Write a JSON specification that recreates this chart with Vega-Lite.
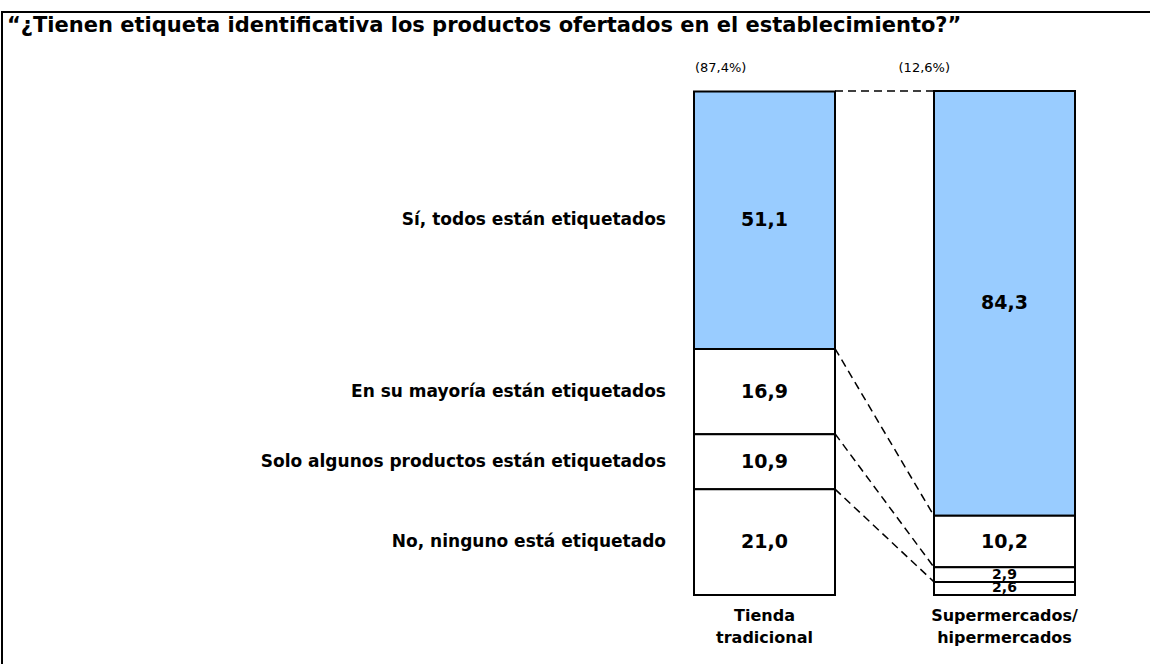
{
  "$schema": "https://vega.github.io/schema/vega-lite/v6.json",
  "width": 1152,
  "height": 656,
  "autosize": {"type": "none"},
  "padding": {"left": 2, "top": 12, "right": 0, "bottom": 0},
  "background": "white",
  "title": {
    "text": "“¿Tienen etiqueta identificativa los productos ofertados en el establecimiento?”",
    "font": "DejaVu Sans",
    "fontSize": 21,
    "fontWeight": "bold",
    "color": "black",
    "anchor": "start",
    "frame": "group",
    "orient": "top",
    "offset": 0,
    "baseline": "middle",
    "dx": 5,
    "dy": 35
  },
  "config": {
    "view": {"stroke": "black", "strokeWidth": 2},
    "font": "DejaVu Sans",
    "locale": {"number": {"decimal": ",", "thousands": ".", "grouping": [3], "currency": ["", " €"]}}
  },
  "datasets": {
    "respuestas": [
      {"canal": "Tienda tradicional", "respuesta": "Sí, todos están etiquetados", "valor": 51.1, "orden": 4},
      {"canal": "Tienda tradicional", "respuesta": "En su mayoría están etiquetados", "valor": 16.9, "orden": 3},
      {"canal": "Tienda tradicional", "respuesta": "Solo algunos productos están etiquetados", "valor": 10.9, "orden": 2},
      {"canal": "Tienda tradicional", "respuesta": "No, ninguno está etiquetado", "valor": 21.0, "orden": 1},
      {"canal": "Supermercados/ hipermercados", "respuesta": "Sí, todos están etiquetados", "valor": 84.3, "orden": 4},
      {"canal": "Supermercados/ hipermercados", "respuesta": "En su mayoría están etiquetados", "valor": 10.2, "orden": 3},
      {"canal": "Supermercados/ hipermercados", "respuesta": "Solo algunos productos están etiquetados", "valor": 2.9, "orden": 2},
      {"canal": "Supermercados/ hipermercados", "respuesta": "No, ninguno está etiquetado", "valor": 2.6, "orden": 1}
    ],
    "conexiones": [
      {"desde": "Tienda tradicional", "hasta": "Supermercados/ hipermercados", "y_desde": 100, "y_hasta": 100},
      {"desde": "Tienda tradicional", "hasta": "Supermercados/ hipermercados", "y_desde": 48.9, "y_hasta": 15.7},
      {"desde": "Tienda tradicional", "hasta": "Supermercados/ hipermercados", "y_desde": 32.0, "y_hasta": 5.5},
      {"desde": "Tienda tradicional", "hasta": "Supermercados/ hipermercados", "y_desde": 21.0, "y_hasta": 2.6}
    ],
    "cuotas": [
      {"canal": "Tienda tradicional", "etiqueta": "(87,4%)"},
      {"canal": "Supermercados/ hipermercados", "etiqueta": "(12,6%)"}
    ]
  },
  "data": {"name": "respuestas"},
  "encoding": {
    "x": {
      "field": "canal",
      "type": "nominal",
      "sort": null,
      "scale": {
        "domain": ["Tienda tradicional", "Supermercados/ hipermercados"],
        "range": [692, 1073],
        "paddingInner": 0.4125,
        "paddingOuter": 0
      },
      "axis": {
        "title": null,
        "orient": "bottom",
        "offset": -73,
        "domain": false,
        "ticks": false,
        "grid": false,
        "labelAngle": 0,
        "labelFont": "DejaVu Sans",
        "labelFontWeight": "bold",
        "labelFontSize": 16,
        "labelColor": "black",
        "labelPadding": 12,
        "labelLineHeight": 22,
        "labelExpr": "split(datum.label, ' ')"
      }
    }
  },
  "layer": [
    {
      "data": {"name": "conexiones"},
      "mark": {"type": "rule", "color": "black", "strokeWidth": 1.5, "strokeDash": [8, 5]},
      "encoding": {
        "x": {"field": "desde", "type": "nominal", "bandPosition": 1},
        "x2": {"field": "hasta", "bandPosition": 0},
        "y": {"field": "y_desde", "type": "quantitative", "scale": {"domain": [0, 100], "range": [583, 79], "nice": false}, "axis": null},
        "y2": {"field": "y_hasta"}
      }
    },
    {
      "transform": [
        {"stack": "valor", "groupby": ["canal"], "sort": [{"field": "orden", "order": "ascending"}], "as": ["y0", "y1"]}
      ],
      "mark": {"type": "bar", "stroke": "black", "strokeWidth": 2},
      "encoding": {
        "y": {"field": "y1", "type": "quantitative", "scale": {"domain": [0, 100], "range": [583, 79], "nice": false}, "axis": null},
        "y2": {"field": "y0"},
        "fill": {
          "field": "respuesta",
          "type": "nominal",
          "scale": {
            "domain": ["Sí, todos están etiquetados", "En su mayoría están etiquetados", "Solo algunos productos están etiquetados", "No, ninguno está etiquetado"],
            "range": ["#99CCFF", "#FFFFFF", "#FFFFFF", "#FFFFFF"]
          },
          "legend": null
        }
      }
    },
    {
      "transform": [
        {"stack": "valor", "groupby": ["canal"], "sort": [{"field": "orden", "order": "ascending"}], "as": ["y0", "y1"]},
        {"fold": ["y0", "y1"], "as": ["extremo", "pos"]},
        {"aggregate": [{"op": "mean", "field": "pos", "as": "medio"}], "groupby": ["canal", "respuesta", "valor"]}
      ],
      "mark": {"type": "text", "font": "DejaVu Sans", "fontWeight": "bold", "color": "black"},
      "encoding": {
        "y": {"field": "medio", "type": "quantitative", "axis": null},
        "text": {"field": "valor", "type": "quantitative", "format": ".1f"},
        "size": {"condition": {"test": "datum.valor < 5", "value": 14}, "value": 19}
      }
    },
    {
      "transform": [
        {"filter": "datum.canal === 'Tienda tradicional'"},
        {"stack": "valor", "groupby": ["canal"], "sort": [{"field": "orden", "order": "ascending"}], "as": ["y0", "y1"]},
        {"fold": ["y0", "y1"], "as": ["extremo", "pos"]},
        {"aggregate": [{"op": "mean", "field": "pos", "as": "medio"}], "groupby": ["canal", "respuesta"]}
      ],
      "mark": {"type": "text", "font": "DejaVu Sans", "fontWeight": "bold", "fontSize": 17, "color": "black", "align": "right", "dx": -28},
      "encoding": {
        "x": {"field": "canal", "type": "nominal", "bandPosition": 0},
        "y": {"field": "medio", "type": "quantitative", "axis": null},
        "text": {"field": "respuesta", "type": "nominal"}
      }
    },
    {
      "data": {"name": "cuotas"},
      "transform": [{"filter": "datum.canal === 'Tienda tradicional'"}],
      "mark": {"type": "text", "font": "DejaVu Sans", "fontSize": 13, "color": "black", "align": "left", "baseline": "bottom", "dx": 1, "dy": -16},
      "encoding": {
        "x": {"field": "canal", "type": "nominal", "bandPosition": 0},
        "y": {"datum": 100, "type": "quantitative"},
        "text": {"field": "etiqueta", "type": "nominal"}
      }
    },
    {
      "data": {"name": "cuotas"},
      "transform": [{"filter": "datum.canal !== 'Tienda tradicional'"}],
      "mark": {"type": "text", "font": "DejaVu Sans", "fontSize": 13, "color": "black", "align": "right", "baseline": "bottom", "dx": 16, "dy": -16},
      "encoding": {
        "x": {"field": "canal", "type": "nominal", "bandPosition": 0},
        "y": {"datum": 100, "type": "quantitative"},
        "text": {"field": "etiqueta", "type": "nominal"}
      }
    }
  ]
}
